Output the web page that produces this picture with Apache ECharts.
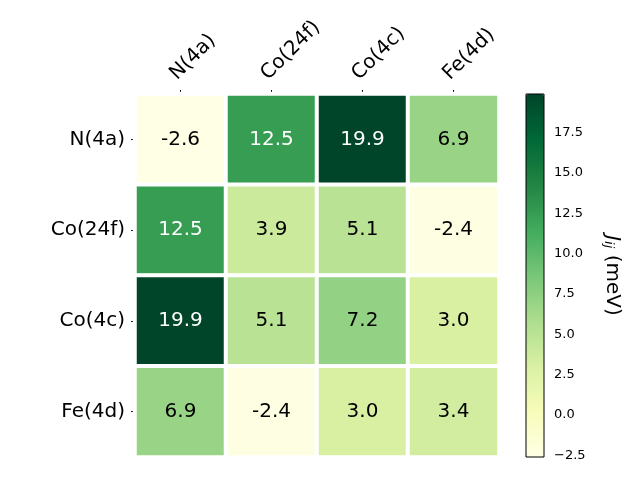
<!DOCTYPE html>
<html>
<head>
<meta charset="utf-8">
<script src="https://cdn.jsdelivr.net/npm/echarts@6/dist/echarts.min.js"></script>
<style>html,body{margin:0;padding:0;background:#fff;}#c{width:640px;height:480px;}</style>
</head>
<body>
<div id="c"></div>
<script>
var sites = ['N(4a)', 'Co(24f)', 'Co(4c)', 'Fe(4d)'];
var rowN4a  = [-2.6, 12.5, 19.9, 6.9];
var rowCo24f = [12.5, 3.9, 5.1, -2.4];
var rowCo4c = [19.9, 5.1, 7.2, 3.0];
var rowFe4d = [6.9, -2.4, 3.0, 3.4];
var colorbarTicks = [-2.5, 0, 2.5, 5, 7.5, 10, 12.5, 15, 17.5];
var vmin = -2.6, vmax = 19.9;
var YlGn = ['#ffffe5','#f7fcb9','#d9f0a3','#addd8e','#78c679','#41ab5d','#238443','#006837','#004529'];

var rows = [rowN4a, rowCo24f, rowCo4c, rowFe4d];
var data = [];
rows.forEach(function (r, i) {
  r.forEach(function (v, j) {
    data.push({ value: [j, i, v], label: { color: v > 10 ? '#ffffff' : '#000000' } });
  });
});
function fmtMinus(v) { return (v < 0 ? '\u2212' : '') + Math.abs(v).toFixed(1); }

var FONT = 'DejaVu Sans';
var chart = echarts.init(document.getElementById('c'), null, { renderer: 'canvas' });
chart.setOption({
  backgroundColor: '#ffffff',
  animation: false,
  textStyle: { fontFamily: FONT },
  grid: [
    { left: 135, top: 94, width: 364, height: 363, show: false },
    { left: 526, top: 94, width: 18, height: 363, show: true, borderColor: '#000', borderWidth: 1, backgroundColor: 'transparent', z: 10 }
  ],
  xAxis: [
    { type: 'category', data: sites, position: 'top', gridIndex: 0,
      axisLine: { show: false },
      axisTick: { show: true, alignWithLabel: true, length: 4, lineStyle: { color: '#000' } },
      axisLabel: { rotate: -45, margin: 10, fontSize: 20, color: '#000', fontFamily: FONT, verticalAlign: 'bottom' },
      splitLine: { show: false } },
    { type: 'value', gridIndex: 1, show: false, min: 0, max: 1 }
  ],
  yAxis: [
    { type: 'category', data: sites, inverse: true, gridIndex: 0,
      axisLine: { show: false },
      axisTick: { show: true, alignWithLabel: true, length: 4, lineStyle: { color: '#000' } },
      axisLabel: { margin: 10, fontSize: 20, color: '#000', fontFamily: FONT },
      splitLine: { show: false } },
    { type: 'value', gridIndex: 1, min: vmin, max: vmax, position: 'right',
      axisLine: { show: false },
      axisTick: { show: true, length: 4, customValues: colorbarTicks, lineStyle: { color: '#000' } },
      axisLabel: { show: true, customValues: colorbarTicks, margin: 10, fontSize: 13, color: '#000', fontFamily: FONT,
        formatter: function (v) { return fmtMinus(v); } },
      splitLine: { show: false },
      name: '{i|J}{s|ij} (meV)',
      nameLocation: 'middle', nameRotate: -90, nameGap: 58,
      nameTextStyle: { fontSize: 20, color: '#000', fontFamily: FONT,
        rich: {
          i: { fontSize: 20, fontStyle: 'italic', fontFamily: FONT, color: '#000' },
          s: { fontSize: 13, fontStyle: 'italic', fontFamily: FONT, color: '#000', verticalAlign: 'bottom', padding: [8, 0, 0, 0] }
        } } }
  ],
  visualMap: {
    type: 'continuous', min: vmin, max: vmax, seriesIndex: 0,
    calculable: false, hoverLink: false,
    left: 526, top: 94, itemWidth: 18, itemHeight: 363, padding: 0,
    inRange: { color: YlGn }, textStyle: { fontSize: 0 }
  },
  series: [{
    type: 'heatmap', xAxisIndex: 0, yAxisIndex: 0, data: data,
    itemStyle: { borderColor: '#ffffff', borderWidth: 4 },
    label: { show: true, fontSize: 20, fontFamily: FONT, formatter: function (p) { return p.value[2].toFixed(1); } },
    emphasis: { disabled: true }
  }]
});
</script>
</body>
</html>
